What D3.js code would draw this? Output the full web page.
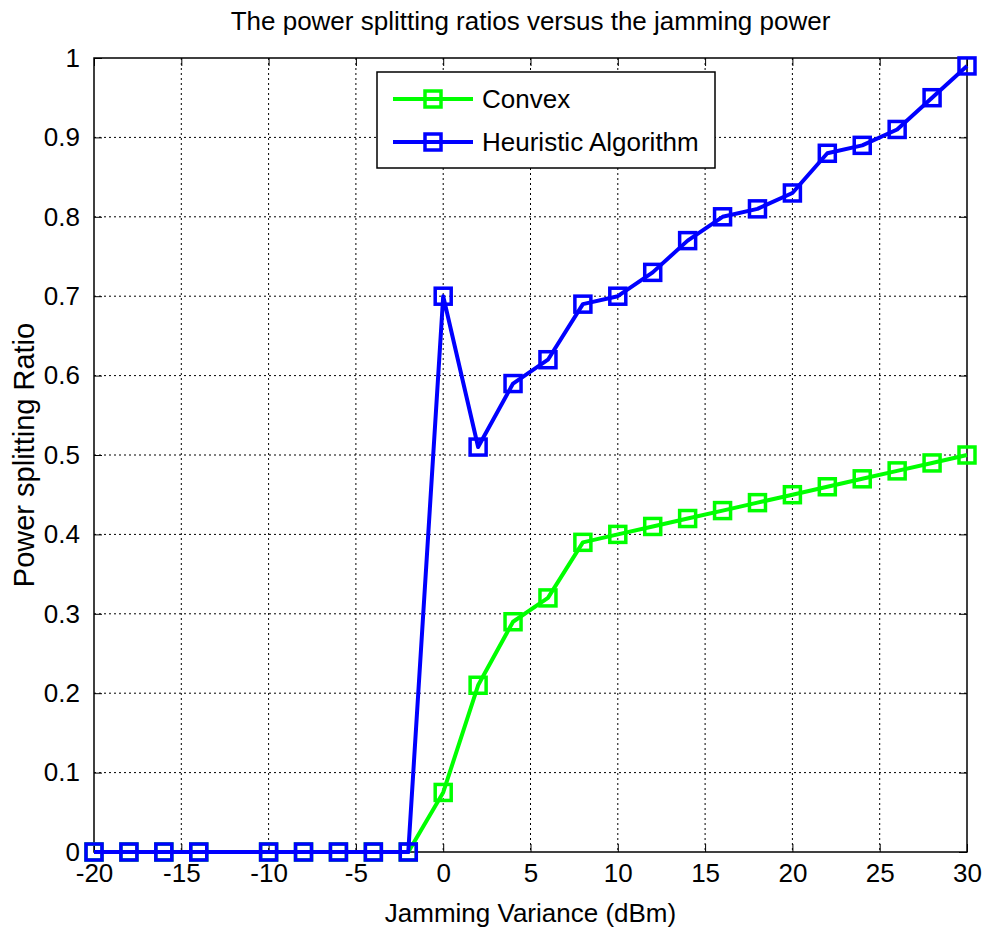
<!DOCTYPE html>
<html><head><meta charset="utf-8">
<script src="https://cdn.jsdelivr.net/npm/d3@7"></script>
<style>body{margin:0;background:#fff}text{font-family:Arial,"Liberation Sans",sans-serif;fill:#000}</style>
</head><body>
<script>
const xValues = [-20,-18,-16,-14,-10,-8,-6,-4,-2,0,2,4,6,8,10,12,14,16,18,20,22,24,26,28,30];
const convex = [0,0,0,0,0,0,0,0,0,0.075,0.21,0.29,0.32,0.39,0.40,0.41,0.42,0.43,0.44,0.45,0.46,0.47,0.48,0.49,0.50];
const heuristic = [0,0,0,0,0,0,0,0,0,0.70,0.51,0.59,0.62,0.69,0.70,0.73,0.77,0.80,0.81,0.83,0.88,0.89,0.91,0.95,0.99];
const xTicks = [-20,-15,-10,-5,0,5,10,15,20,25,30];
const yTicks = [0,0.1,0.2,0.3,0.4,0.5,0.6,0.7,0.8,0.9,1];
const seriesNames = ["Convex","Heuristic Algorithm"];
const seriesColors = ["#00ff00","#0000ff"];

const W=986,H=932, L=94, R=967, T=58, B=852;
const svg=d3.select("body").append("svg").attr("width",W).attr("height",H);
const x=d3.scaleLinear().domain([-20,30]).range([L,R]);
const y=d3.scaleLinear().domain([0,1]).range([B,T]);

// grid
const g=svg.append("g");
xTicks.forEach(t=>{ if(t>-20&&t<30) g.append("line").attr("x1",x(t)).attr("x2",x(t)).attr("y1",T).attr("y2",B).attr("stroke","#000").attr("stroke-width",1).attr("stroke-dasharray","2,3");});
yTicks.forEach(t=>{ if(t>0&&t<1) g.append("line").attr("x1",L).attr("x2",R).attr("y1",y(t)).attr("y2",y(t)).attr("stroke","#000").attr("stroke-width",1).attr("stroke-dasharray","2,3");});

// axes
const tl=8;
const ax=svg.append("g").attr("transform",`translate(0,${B})`).call(d3.axisBottom(x).tickValues(xTicks).tickSize(-tl).tickPadding(tl+4).tickFormat(d=>String(d)));
ax.select(".domain").remove();
ax.selectAll("text").style("font-size","26px").attr("fill","#000").attr("dy","0.71em");
const axT=svg.append("g").attr("transform",`translate(0,${T})`).call(d3.axisTop(x).tickValues(xTicks).tickSize(-tl).tickFormat(""));
axT.select(".domain").remove();
const ay=svg.append("g").attr("transform",`translate(${L},0)`).call(d3.axisLeft(y).tickValues(yTicks).tickSize(-tl).tickPadding(tl+6).tickFormat(d=>d===0?"0":d===1?"1":d3.format(".1f")(d)));
ay.select(".domain").remove();
ay.selectAll("text").style("font-size","26px").attr("fill","#000");
const ayR=svg.append("g").attr("transform",`translate(${R},0)`).call(d3.axisRight(y).tickValues(yTicks).tickSize(-tl).tickFormat(""));
ayR.select(".domain").remove();
svg.append("rect").attr("x",L).attr("y",T).attr("width",R-L).attr("height",B-T).attr("fill","none").attr("stroke","#000").attr("stroke-width",1.5);

// series
const sets=[convex,heuristic];
sets.forEach((vals,i)=>{
  const data=xValues.map((xv,j)=>[xv,vals[j]]);
  svg.append("path").datum(data).attr("fill","none").attr("stroke",seriesColors[i]).attr("stroke-width",4).attr("stroke-linejoin","round")
    .attr("d",d3.line().x(d=>x(d[0])).y(d=>y(d[1])));
  svg.append("g").selectAll("rect").data(data).join("rect")
    .attr("x",d=>x(d[0])-8).attr("y",d=>y(d[1])-8).attr("width",16).attr("height",16)
    .attr("fill","none").attr("stroke",seriesColors[i]).attr("stroke-width",3.5);
});

// legend
const lg=svg.append("g");
lg.append("rect").attr("x",377).attr("y",72).attr("width",338).attr("height",96).attr("fill","#fff").attr("stroke","#000").attr("stroke-width",1.5);
seriesNames.forEach((n,i)=>{
  const yy=99+i*43;
  lg.append("line").attr("x1",393).attr("x2",473).attr("y1",yy).attr("y2",yy).attr("stroke",seriesColors[i]).attr("stroke-width",4);
  lg.append("rect").attr("x",433-8).attr("y",yy-8).attr("width",16).attr("height",16).attr("fill","none").attr("stroke",seriesColors[i]).attr("stroke-width",3.5);
  lg.append("text").attr("x",482).attr("y",yy+9).style("font-size","26px").text(n);
});

// titles
svg.append("text").attr("x",(L+R)/2).attr("y",30).attr("text-anchor","middle").style("font-size","26px").text("The power splitting ratios versus the jamming power");
svg.append("text").attr("x",(L+R)/2).attr("y",922).attr("text-anchor","middle").style("font-size","26px").text("Jamming Variance (dBm)");
svg.append("text").attr("transform",`translate(34,${(T+B)/2}) rotate(-90)`).attr("text-anchor","middle").style("font-size","29px").text("Power splitting Ratio");
</script>
</body></html>
